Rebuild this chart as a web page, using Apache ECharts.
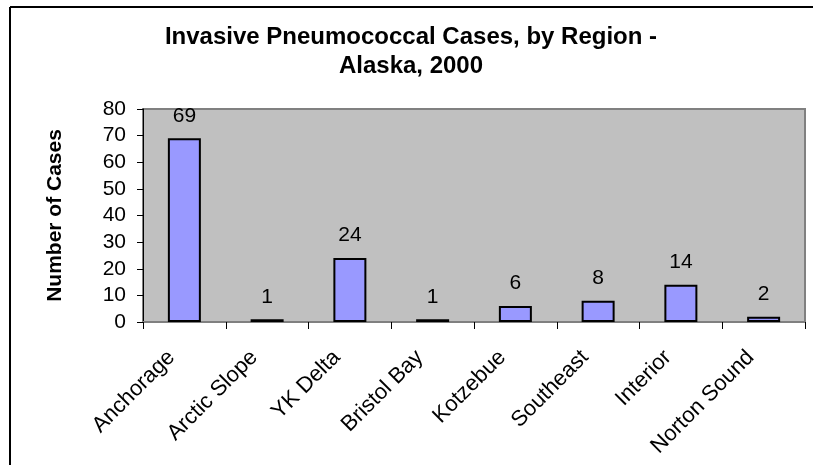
<!DOCTYPE html>
<html>
<head>
<meta charset="utf-8">
<script src="https://cdn.jsdelivr.net/npm/echarts@6/dist/echarts.min.js"></script>
<style>
  html, body { margin: 0; padding: 0; background: #fff; }
  #main { width: 813px; height: 465px; }
</style>
</head>
<body>
<div id="main"></div>
<script>
  // 数据
  var regions = ['Anchorage', 'Arctic Slope', 'YK Delta', 'Bristol Bay', 'Kotzebue', 'Southeast', 'Interior', 'Norton Sound'];
  var cases = [69, 1, 24, 1, 6, 8, 14, 2];
  var yTicks = [0, 10, 20, 30, 40, 50, 60, 70, 80];

  var myChart = echarts.init(document.getElementById('main'));
  var font = 'Arial, "Liberation Sans", sans-serif';

  option = {
    backgroundColor: '#fff',
    animation: false,
    textStyle: { fontFamily: font },
    title: {
      text: 'Invasive Pneumococcal Cases, by Region -\nAlaska, 2000',
      left: 406,
      top: 18,
      textAlign: 'center',
      textStyle: {
        fontFamily: font,
        fontSize: 24,
        fontWeight: 'bold',
        color: '#000',
        lineHeight: 29
      }
    },
    graphic: [
      { type: 'line', shape: { x1: 10, y1: 7, x2: 813, y2: 7 }, style: { stroke: '#000', lineWidth: 2 } },
      { type: 'line', shape: { x1: 10, y1: 7, x2: 10, y2: 465 }, style: { stroke: '#000', lineWidth: 2 } }
    ],
    grid: {
      left: 143,
      right: 8,
      top: 109,
      bottom: 143,
      outerBoundsMode: 'none',
      containLabel: false,
      show: true,
      backgroundColor: '#C0C0C0',
      borderColor: '#808080',
      borderWidth: 2
    },
    xAxis: {
      type: 'category',
      data: regions,
      axisLine: { lineStyle: { color: '#808080', width: 2 } },
      axisTick: { show: true, length: 7, lineStyle: { color: '#000' } },
      axisLabel: {
        rotate: 45,
        interval: 0,
        margin: 19,
        fontSize: 22,
        color: '#000',
        fontFamily: font,
        // 标签末端稍微偏左
        formatter: function (v) { return v + '   '; }
      }
    },
    yAxis: {
      type: 'value',
      min: yTicks[0],
      max: yTicks[yTicks.length - 1],
      interval: 10,
      name: 'Number of Cases',
      nameLocation: 'middle',
      nameRotate: 90,
      nameGap: 77,
      nameTextStyle: { fontSize: 21, fontWeight: 'bold', color: '#000', fontFamily: font },
      axisLine: { show: true, lineStyle: { color: '#000', width: 1 } },
      axisTick: { show: true, length: 6, lineStyle: { color: '#000' } },
      axisLabel: { fontSize: 21, color: '#000', margin: 17, fontFamily: font },
      splitLine: { show: false }
    },
    series: [{
      type: 'bar',
      data: cases,
      barWidth: 33,
      itemStyle: { color: '#9999FF', borderColor: '#000', borderWidth: 2 },
      label: {
        show: true,
        position: 'top',
        distance: 12,
        fontSize: 21,
        color: '#000',
        fontFamily: font
      }
    }]
  };

  myChart.setOption(option);
</script>
</body>
</html>
